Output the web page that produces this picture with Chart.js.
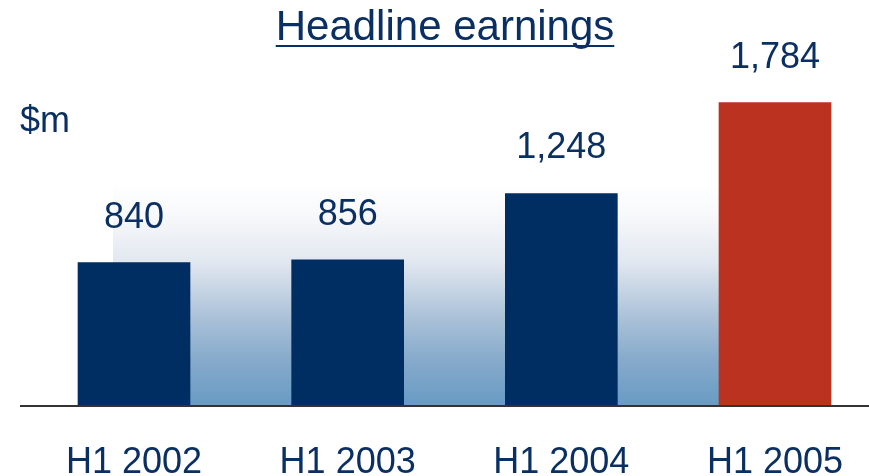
<!DOCTYPE html>
<html>
<head>
<meta charset="utf-8">
<script src="https://cdn.jsdelivr.net/npm/chart.js@4"></script>
<style>
  html, body { margin: 0; padding: 0; background: #fff; }
  #wrap { width: 869px; height: 476px; position: relative; }
</style>
</head>
<body>
<div id="wrap"><canvas id="earnings"></canvas></div>
<script>

const periods = ['H1 2002', 'H1 2003', 'H1 2004', 'H1 2005'];
const earnings = [840, 856, 1248, 1784];
const barColors = ['#002d62', '#002d62', '#002d62', '#bb3220'];

const chartTitle = 'Headline earnings';
const unitLabel = '$m';

const navy = '#0a2f62';
const fontName = '"Liberation Sans", Arial, sans-serif';

// shaded backdrop behind the bars + the long baseline
const backdrop = {
    id: 'backdrop',
    beforeDatasetsDraw(chart) {
        const ctx = chart.ctx;
        const area = chart.chartArea;
        const top = 180;
        const grad = ctx.createLinearGradient(0, top, 0, area.bottom);
        grad.addColorStop(0, '#ffffff');
        grad.addColorStop(0.15, '#f8f9fb');
        grad.addColorStop(0.36, '#e2e8f0');
        grad.addColorStop(0.62, '#a9c0d7');
        grad.addColorStop(0.8, '#86aacb');
        grad.addColorStop(1, '#699bc3');
        ctx.save();
        ctx.fillStyle = grad;
        ctx.fillRect(113, top, 800 - 113, area.bottom - top);
        ctx.restore();
    },
    afterDatasetsDraw(chart) {
        const ctx = chart.ctx;
        const y = chart.chartArea.bottom;
        ctx.save();
        ctx.strokeStyle = '#333333';
        ctx.lineWidth = 2;
        ctx.beginPath();
        ctx.moveTo(20, y + 1);
        ctx.lineTo(chart.width, y + 1);
        ctx.stroke();
        ctx.restore();
    }
};

// numbers over the bars, title with underline, unit label
const annotations = {
    id: 'annotations',
    afterDraw(chart) {
        const ctx = chart.ctx;
        ctx.save();
        ctx.fillStyle = navy;
        ctx.textAlign = 'center';
        ctx.textBaseline = 'middle';
        ctx.font = '36px ' + fontName;

        const meta = chart.getDatasetMeta(0);
        meta.data.forEach((bar, i) => {
            ctx.fillText(earnings[i].toLocaleString('en-US'), bar.x, bar.y - 45);
        });

        ctx.textAlign = 'left';
        ctx.fillText(unitLabel, 20, 122);

        ctx.font = '42px ' + fontName;
        ctx.textAlign = 'center';
        ctx.fillText(chartTitle, 445, 28);
        const w = ctx.measureText(chartTitle).width;
        ctx.fillRect(445 - w / 2, 45, w, 2);
        ctx.restore();
    }
};

const ctx = document.getElementById('earnings').getContext('2d');

new Chart(ctx, {
    type: 'bar',
    data: {
        labels: periods,
        datasets: [{
            data: earnings,
            backgroundColor: barColors,
            barThickness: 112,
            clip: false
        }]
    },
    options: {
        responsive: true,
        maintainAspectRatio: false,
        animation: false,
        layout: {
            padding: { top: 66, left: 134, right: 94, bottom: 0 }
        },
        plugins: {
            legend: { display: false },
            tooltip: { enabled: false }
        },
        scales: {
            x: {
                offset: false,
                grid: { display: false },
                border: { display: false },
                ticks: {
                    color: navy,
                    padding: 32,
                    maxRotation: 0,
                    font: { family: fontName, size: 36, lineHeight: 1 }
                },
                afterFit(axis) {
                    axis.height = 71;
                    // labels may hang past the plot edges, the side padding covers them
                    axis.paddingLeft = 0;
                    axis.paddingRight = 0;
                }
            },
            y: {
                display: false,
                min: 0,
                max: 2000
            }
        }
    },
    plugins: [backdrop, annotations]
});

</script>
</body>
</html>
